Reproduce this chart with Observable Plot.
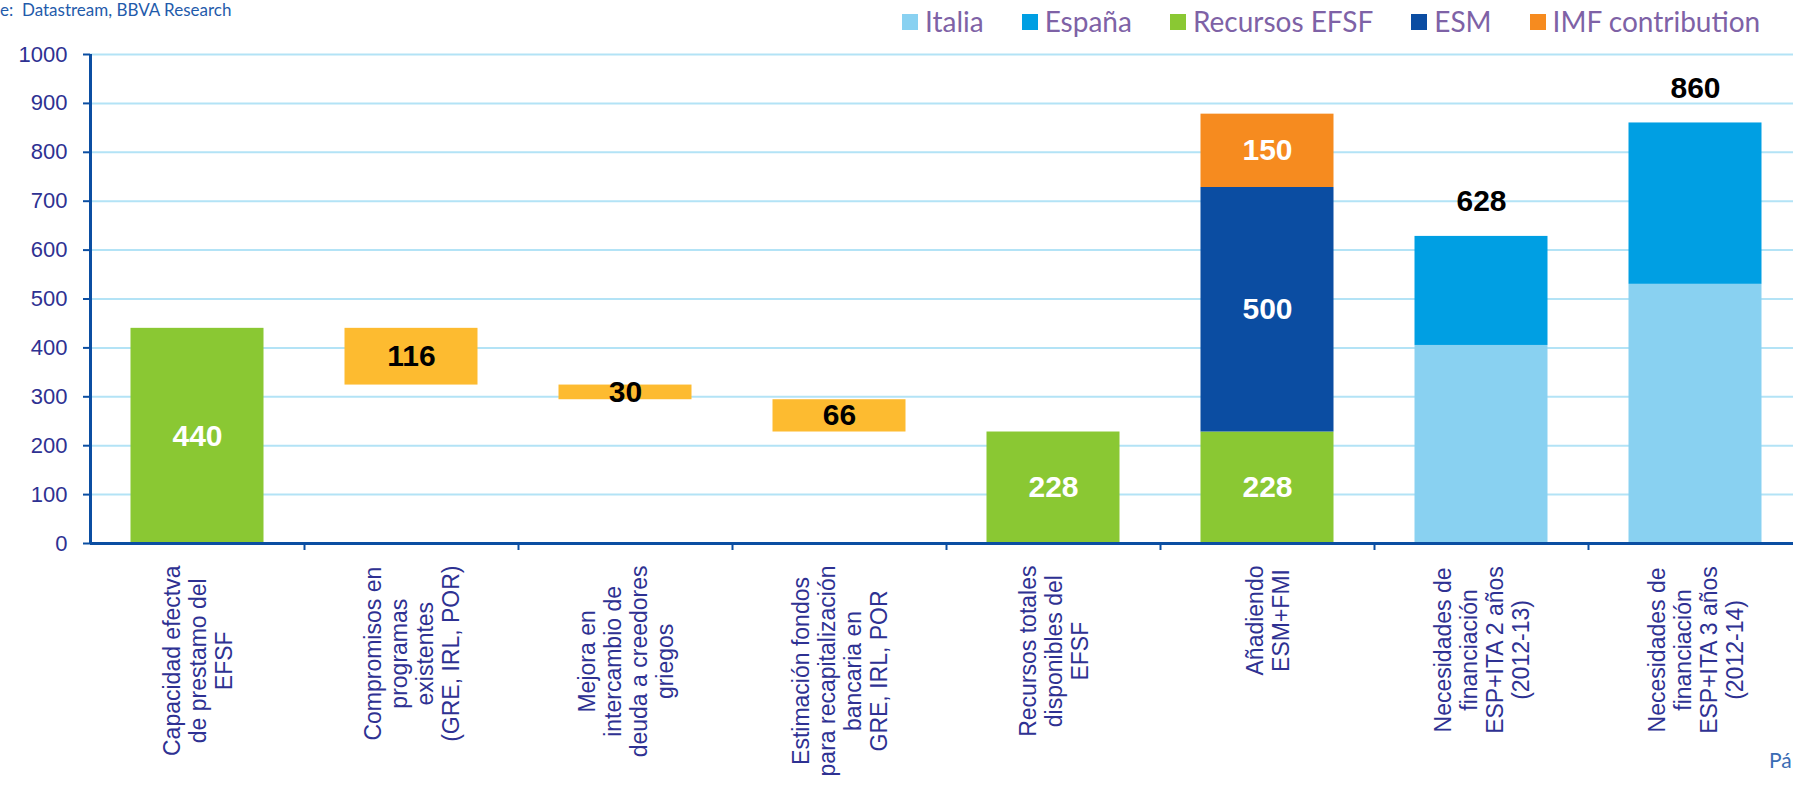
<!DOCTYPE html>
<html>
<head>
<meta charset="utf-8">
<script src="https://cdn.jsdelivr.net/npm/d3@7"></script>
<script src="https://cdn.jsdelivr.net/npm/@observablehq/plot@0.6"></script>
<style>
  body { margin: 0; background: #fff; overflow: hidden; }
  #wrap { position: relative; width: 1793px; height: 786px; overflow: hidden; }
  #header { position: relative; height: 40px; font-family: Lato, "Open Sans", sans-serif; }
  #source { position: absolute; left: 0; top: 1px; font-size: 17px; line-height: 17px; color: #1f5bab; white-space: pre; }
  #legend { position: absolute; left: 902px; top: 8px; display: flex; gap: 38px; font-size: 28px; line-height: 27px; color: #7e62a6; white-space: nowrap; }
  .item { display: flex; align-items: center; gap: 7px; }
  .sw { width: 16px; height: 16px; }
  #page { position: absolute; left: 1769px; top: 749px; font-family: Lato, sans-serif; font-size: 21px; line-height: 21px; color: #3a6cb4; }
  svg { display: block; }
</style>
</head>
<body>
<div id="wrap">
  <div id="header">
    <div id="source"></div>
    <div id="legend"></div>
  </div>
  <div id="chart"></div>
  <div id="page"></div>
</div>
<script>
// ---------------- data ----------------
const categories = [
  "Capacidad efectva\nde prestamo del\nEFSF",
  "Compromisos en\nprogramas\nexistentes\n(GRE, IRL, POR)",
  "Mejora en\nintercambio de\ndeuda a creedores\ngriegos",
  "Estimación fondos\npara recapitalización\nbancaria en\nGRE, IRL, POR",
  "Recursos totales\ndisponibles del\nEFSF",
  "Añadiendo\nESM+FMI",
  "Necesidades de\nfinanciación\nESP+ITA 2 años\n(2012-13)",
  "Necesidades de\nfinanciación\nESP+ITA 3 años\n(2012-14)"
];
const seriesNames  = ["Italia", "España", "Recursos EFSF", "ESM", "IMF contribution"];
const seriesColors = ["#89d1f1", "#009fe3", "#8ac833", "#0b4da2", "#f68b1f"];
const stackOrder   = ["Recursos EFSF", "ESM", "IMF contribution", "Italia", "España"];
const labelledSeries = ["Recursos EFSF", "ESM", "IMF contribution"];

const recursosEFSF = [440, null, null, null, 228, 228, null, null];
const esm          = [null, null, null, null, null, 500, null, null];
const imf          = [null, null, null, null, null, 150, null, null];
const italia       = [null, null, null, null, null, null, 405, 530];
const espana       = [null, null, null, null, null, null, 223, 330];
const reductions   = [null, 116, 30, 66, null, null, null, null];

const yTicks = [0, 100, 200, 300, 400, 500, 600, 700, 800, 900, 1000];
const sourceText = "e:  Datastream, BBVA Research";
const pageText = "Pá";

// ---------------- styles ----------------
const axisBlue = "#0b4ea2";
const gridColor = "#b3e3f6";
const labelColor = "#2e3192";
const wfColor = "#fdbb30";

// ---------------- derived tables ----------------
const seriesArrays = {
  "Recursos EFSF": recursosEFSF, "ESM": esm, "IMF contribution": imf,
  "Italia": italia, "España": espana
};
const stacked = [];
categories.forEach((cat, i) => {
  for (const s of stackOrder) {
    const v = seriesArrays[s][i];
    if (v != null) stacked.push({cat, series: s, value: v});
  }
});

const waterfall = [];
let running = recursosEFSF[0];
categories.forEach((cat, i) => {
  const r = reductions[i];
  if (r != null) {
    waterfall.push({cat, top: running, bottom: running - r, value: r});
    running -= r;
  }
});

const totals = [];
categories.forEach((cat, i) => {
  if (italia[i] != null && espana[i] != null) totals.push({cat, total: italia[i] + espana[i]});
});

// ---------------- header / legend ----------------
document.getElementById("source").textContent = sourceText;
document.getElementById("page").textContent = pageText;
const legend = document.getElementById("legend");
seriesNames.forEach((name, i) => {
  const item = document.createElement("div");
  item.className = "item";
  const sw = document.createElement("div");
  sw.className = "sw";
  sw.style.background = seriesColors[i];
  const t = document.createElement("span");
  t.textContent = name;
  item.appendChild(sw);
  item.appendChild(t);
  legend.appendChild(item);
});

// ---------------- chart ----------------
const width = 1793, height = 746;
const marginLeft = 90, marginRight = -9, marginTop = 14, marginBottom = 243;
const step = (width - marginLeft - marginRight) / categories.length;
const barInset = (step - 133) / 2;

const catFontSize = 23;
const ctx = document.createElement("canvas").getContext("2d");
ctx.font = `${catFontSize}px "Liberation Sans"`;
const maxLineLen = s => d3.max(s.split("\n"), l => ctx.measureText(l).width);

const valueFont = {fontSize: 30, fontWeight: "bold", fontFamily: "Liberation Sans, Arial, sans-serif"};

const chart = Plot.plot({
  width, height, marginLeft, marginRight, marginTop, marginBottom,
  style: {fontFamily: "Liberation Sans, Arial, sans-serif", background: "#fff"},
  x: {domain: categories, padding: 0, axis: null},
  y: {domain: [0, 1000], axis: null},
  color: {domain: seriesNames, range: seriesColors},
  marks: [
    Plot.gridY(yTicks, {stroke: gridColor, strokeOpacity: 1, strokeWidth: 2}),
    Plot.barY(stacked, {x: "cat", y: "value", fill: "series", z: "series", order: stackOrder,
      insetLeft: barInset, insetRight: barInset}),
    Plot.barY(waterfall, {x: "cat", y1: "bottom", y2: "top", fill: wfColor,
      insetLeft: barInset, insetRight: barInset}),
    Plot.text(stacked, Plot.stackY({x: "cat", y: "value", z: "series", order: stackOrder,
      filter: d => labelledSeries.includes(d.series),
      text: d => String(d.value), fill: "white", ...valueFont})),
    Plot.text(waterfall, {x: "cat", y: d => (d.top + d.bottom) / 2, text: d => String(d.value),
      fill: "black", ...valueFont}),
    Plot.text(totals, {x: "cat", y: "total", text: d => String(d.total), dy: -35,
      fill: "black", ...valueFont}),
    Plot.ruleY([0], {stroke: axisBlue, strokeWidth: 3}),
    Plot.ruleX([categories[0]], {x: d => d, y1: 0, y2: 1000, dx: -step / 2, stroke: axisBlue, strokeWidth: 3}),
    Plot.axisY({ticks: yTicks, tickFormat: d => String(d), tickSize: 7, tickPadding: 16, fontSize: 22,
      stroke: axisBlue, fill: labelColor, strokeWidth: 2, label: null}),
    Plot.axisX({ticks: categories.slice(1), tickSize: 7, dx: -step / 2, tickFormat: () => "",
      stroke: axisBlue, strokeWidth: 2, label: null}),
    ...categories.map(c => Plot.text([c], {
      x: d => d, text: d => d, frameAnchor: "bottom", rotate: -90,
      textAnchor: "middle", lineAnchor: "middle", lineHeight: 1.13,
      dy: 22 + maxLineLen(c) / 2, fontSize: catFontSize, fill: labelColor
    }))
  ]
});
document.getElementById("chart").appendChild(chart);
</script>
</body>
</html>
